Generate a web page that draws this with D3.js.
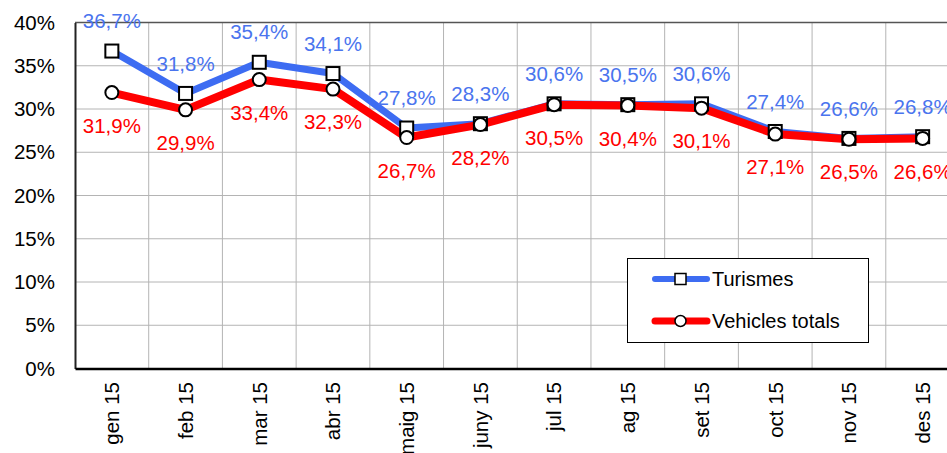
<!DOCTYPE html>
<html><head><meta charset="utf-8">
<script src="https://cdn.jsdelivr.net/npm/d3@7"></script>
<style>
html,body{margin:0;padding:0;background:#fff;overflow:hidden}
text{font-family:"Liberation Sans",Arial,sans-serif}
</style></head>
<body><svg id="c" width="947" height="453"></svg>
<script>
const months = ["gen 15","feb 15","mar 15","abr 15","maig 15","juny 15","jul 15","ag 15","set 15","oct 15","nov 15","des 15"];
const turismes = [36.7,31.8,35.4,34.1,27.8,28.3,30.6,30.5,30.6,27.4,26.6,26.8];
const vehicles = [31.9,29.9,33.4,32.3,26.7,28.2,30.5,30.4,30.1,27.1,26.5,26.6];
const yTicks = [0,5,10,15,20,25,30,35,40];
const seriesNames = ["Turismes","Vehicles totals"];

const blue = "#3d6cf2", blueText = "#4a74ee", red = "#ff0000";
const svg = d3.select("#c");
const L = 75, R = 959.5, T = 22.5, B = 368.5;
const x = d3.scaleBand().domain(months).range([L, R]).padding(0);
const y = d3.scaleLinear().domain([0, 40]).range([B, T]);
const cx = d => x(d) + x.bandwidth()/2;
const fmt = v => v.toFixed(1).replace(".", ",") + "%";

// gridlines
const g = svg.append("g");
g.selectAll(".hg").data(yTicks.filter(t => t > 0 && t < 40)).join("line")
  .attr("x1", L).attr("x2", R).attr("y1", d => y(d)).attr("y2", d => y(d))
  .attr("stroke", "#b4b4b4").attr("stroke-width", 1);
g.selectAll(".vg").data(months.slice(1)).join("line")
  .attr("x1", d => x(d)).attr("x2", d => x(d)).attr("y1", T).attr("y2", B)
  .attr("stroke", "#b4b4b4").attr("stroke-width", 1);
// top border
g.append("line").attr("x1", L).attr("x2", R).attr("y1", T).attr("y2", T).attr("stroke", "#555").attr("stroke-width", 1.5);

// y axis
const yAxis = svg.append("g").attr("transform", `translate(${L},0)`)
  .call(d3.axisLeft(y).tickValues(yTicks).tickFormat(d => d + "%").tickSize(0).tickPadding(20));
yAxis.select(".domain").attr("stroke", "#222").attr("stroke-width", 2);
yAxis.selectAll("text").attr("font-size", 20.5).attr("fill", "#000").attr("font-family", "Liberation Sans, Arial");

// x axis
const xAxis = svg.append("g").attr("transform", `translate(0,${B})`)
  .call(d3.axisBottom(x).tickSize(0).tickPadding(12));
xAxis.select(".domain").attr("stroke", "#000").attr("stroke-width", 2.5);
xAxis.selectAll("text").attr("font-size", 20.5).attr("fill", "#000").attr("font-family", "Liberation Sans, Arial")
  .attr("transform", "rotate(-90)").attr("text-anchor", "end")
  .attr("x", -13.5).attr("y", 0).attr("dy", "0.36em");

// lines
const line = d3.line().x((d, i) => cx(months[i])).y(d => y(d));
svg.append("path").datum(turismes).attr("d", line).attr("fill", "none")
  .attr("stroke", blue).attr("stroke-width", 7).attr("stroke-linejoin", "round");
svg.append("path").datum(vehicles).attr("d", line).attr("fill", "none")
  .attr("stroke", red).attr("stroke-width", 8).attr("stroke-linejoin", "round");

// markers
svg.selectAll(".sq").data(turismes).join("rect")
  .attr("x", (d, i) => cx(months[i]) - 6.5).attr("y", d => y(d) - 6.5)
  .attr("width", 13).attr("height", 13).attr("fill", "#fff").attr("stroke", "#000").attr("stroke-width", 2);
svg.selectAll(".ci").data(vehicles).join("circle")
  .attr("cx", (d, i) => cx(months[i])).attr("cy", d => y(d)).attr("r", 6.5)
  .attr("fill", "#fff").attr("stroke", "#000").attr("stroke-width", 2);

// labels
svg.selectAll(".lb").data(turismes).join("text")
  .attr("x", (d, i) => cx(months[i])).attr("y", d => y(d) - 30).attr("dy", "0.35em")
  .attr("text-anchor", "middle").attr("font-size", 20.5).attr("fill", blueText).text(fmt);
svg.selectAll(".lr").data(vehicles).join("text")
  .attr("x", (d, i) => cx(months[i])).attr("y", d => y(d) + 33).attr("dy", "0.35em")
  .attr("text-anchor", "middle").attr("font-size", 20.5).attr("fill", red).text(fmt);

// legend
const lg = svg.append("g");
lg.append("rect").attr("x", 627.5).attr("y", 258.5).attr("width", 241).attr("height", 84)
  .attr("fill", "#fff").attr("stroke", "#000").attr("stroke-width", 1);
const legY = [279, 321];
seriesNames.forEach((n, i) => {
  const c = i === 0 ? blue : red;
  lg.append("line").attr("x1", 655).attr("x2", 707).attr("y1", legY[i]).attr("y2", legY[i])
    .attr("stroke", c).attr("stroke-width", i === 0 ? 6 : 7).attr("stroke-linecap", "round");
  if (i === 0) lg.append("rect").attr("x", 675).attr("y", legY[i] - 5.5).attr("width", 11).attr("height", 11)
      .attr("fill", "#fff").attr("stroke", "#000").attr("stroke-width", 1.5);
  else lg.append("circle").attr("cx", 680.5).attr("cy", legY[i]).attr("r", 5.5)
      .attr("fill", "#fff").attr("stroke", "#000").attr("stroke-width", 1.5);
  lg.append("text").attr("x", 712).attr("y", legY[i]).attr("dy", "0.35em")
    .attr("font-size", 20).attr("fill", "#000").text(n);
});
</script></body></html>
